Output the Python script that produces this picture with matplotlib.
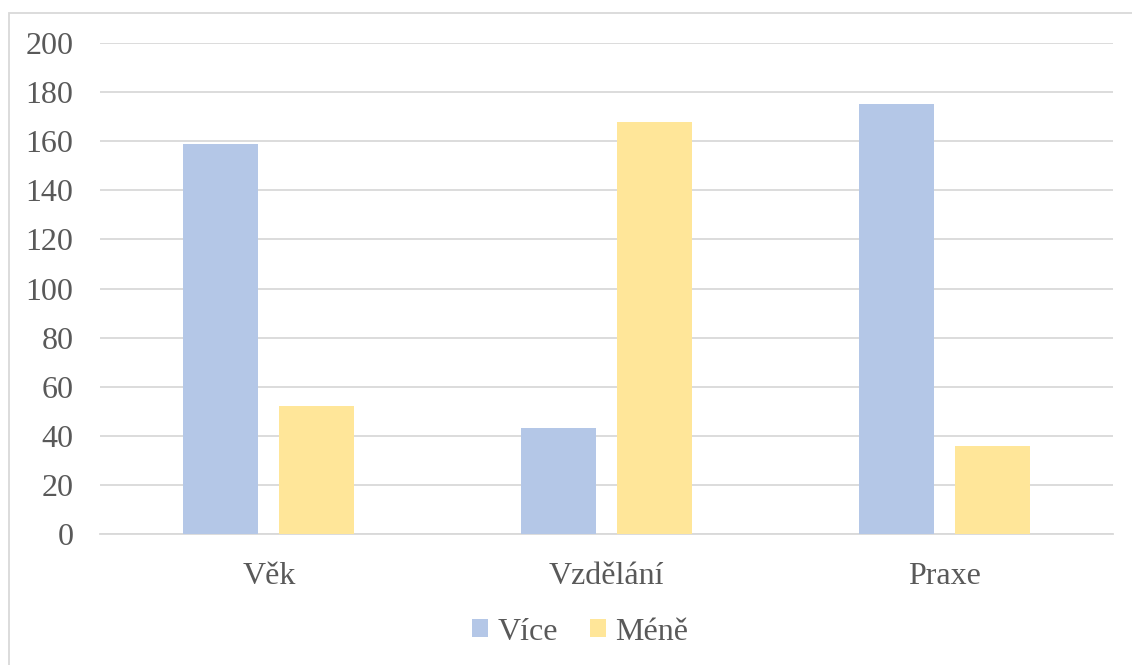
import matplotlib
matplotlib.use("Agg")
import matplotlib.pyplot as plt
import numpy as np
from matplotlib.patches import Rectangle

categories = ["Věk", "Vzdělání", "Praxe"]
vice = [159, 43, 175]
mene = [52, 168, 36]
series_names = ["Více", "Méně"]
yticks = [0, 20, 40, 60, 80, 100, 120, 140, 160, 180, 200]

blue = "#B4C7E7"
yellow = "#FFE699"
text_gray = "#595959"
grid_gray = "#D9D9D9"

plt.rcParams["font.family"] = ["Liberation Serif", "DejaVu Serif"]

fig = plt.figure(figsize=(11.32, 6.65), dpi=100)
ax = fig.add_axes([100 / 1132, 131 / 665, 1013 / 1132, 491 / 665])

x = np.arange(len(categories))
width = 0.222
offset = 0.142
ax.bar(x - offset, vice, width, color=blue, label=series_names[0], zorder=3)
ax.bar(x + offset, mene, width, color=yellow, label=series_names[1], zorder=3)

ax.set_xlim(-0.5, len(categories) - 0.5)
ax.set_ylim(0, 200)
ax.set_yticks(yticks)
ax.set_xticks(x)
ax.set_xticklabels(categories)
ax.yaxis.grid(True, color=grid_gray, linewidth=1.3, zorder=0)
ax.set_axisbelow(True)
for side in ["top", "right", "left"]:
    ax.spines[side].set_visible(False)
ax.spines["bottom"].set_color(grid_gray)
ax.spines["bottom"].set_linewidth(1.3)
ax.tick_params(axis="both", length=0, colors=text_gray, labelsize=23)
ax.tick_params(axis="y", pad=19)
ax.tick_params(axis="x", pad=20)

leg = fig.legend(loc="center", bbox_to_anchor=(580 / 1132, 1 - 632 / 665), ncol=2,
                 frameon=False, fontsize=23, handlelength=0.5, handleheight=0.5,
                 handletextpad=0.3, columnspacing=1.0)
for t in leg.get_texts():
    t.set_color(text_gray)

# outer chart frame
fig.patches.append(Rectangle((8.5 / 1132, -0.1), 1.2, 1 - 12.5 / 665 + 0.1,
                             transform=fig.transFigure, fill=False,
                             edgecolor="#D9D9D9", linewidth=1.3))

fig.savefig("out.png", dpi=100)
